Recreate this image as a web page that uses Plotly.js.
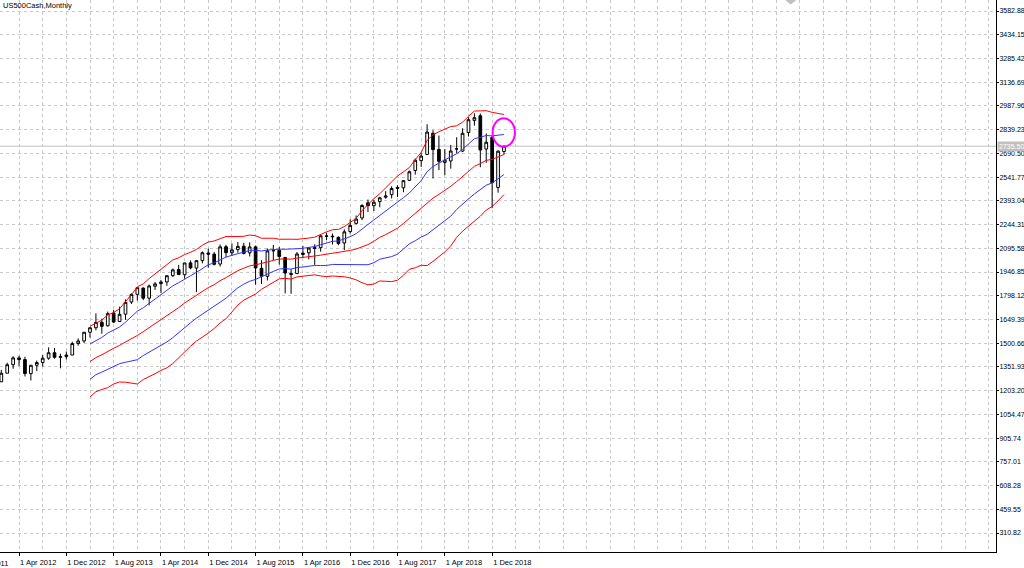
<!DOCTYPE html>
<html>
<head>
<meta charset="utf-8">
<script src="https://cdn.plot.ly/plotly-3.0.1.min.js"></script>
<style>html,body{margin:0;padding:0;background:#fff}#chart{width:1024px;height:568px}</style>
</head>
<body>
<div id="chart"></div>
<script>
// ---- data ----
const months = [
'2012-01','2012-02','2012-03','2012-04','2012-05','2012-06','2012-07','2012-08','2012-09','2012-10','2012-11','2012-12',
'2013-01','2013-02','2013-03','2013-04','2013-05','2013-06','2013-07','2013-08','2013-09','2013-10','2013-11','2013-12',
'2014-01','2014-02','2014-03','2014-04','2014-05','2014-06','2014-07','2014-08','2014-09','2014-10','2014-11','2014-12',
'2015-01','2015-02','2015-03','2015-04','2015-05','2015-06','2015-07','2015-08','2015-09','2015-10','2015-11','2015-12',
'2016-01','2016-02','2016-03','2016-04','2016-05','2016-06','2016-07','2016-08','2016-09','2016-10','2016-11','2016-12',
'2017-01','2017-02','2017-03','2017-04','2017-05','2017-06','2017-07','2017-08','2017-09','2017-10','2017-11','2017-12',
'2018-01','2018-02','2018-03','2018-04','2018-05','2018-06','2018-07','2018-08','2018-09','2018-10','2018-11','2018-12',
'2019-01','2019-02'];
const opens = [
1258.86,1312.45,1365.90,1408.47,1397.86,1309.87,1362.33,1379.32,1406.54,1440.90,1412.20,1416.18,
1426.19,1498.11,1514.68,1569.18,1597.55,1631.71,1609.78,1689.42,1635.95,1682.41,1758.70,1806.55,
1845.86,1782.68,1857.68,1873.96,1884.39,1923.87,1962.29,1929.80,2004.07,1971.44,2018.21,2065.78,
2058.90,1996.67,2105.23,2067.63,2087.38,2108.64,2067.00,2104.49,1970.09,1919.65,2080.76,2082.93,
2038.20,1936.94,1937.09,2056.62,2067.17,2093.94,2099.34,2173.15,2171.33,2164.33,2128.68,2200.17,
2251.57,2285.59,2380.13,2362.34,2388.50,2415.65,2431.39,2477.10,2474.42,2521.20,2583.21,2645.10,
2683.73,2816.45,2715.22,2633.45,2642.96,2718.70,2704.95,2821.17,2896.96,2926.29,2717.58,2790.50,
2476.96,2702.32];
const highs = [
1333.47,1378.04,1419.15,1422.38,1415.32,1363.46,1391.74,1426.68,1474.51,1470.96,1434.27,1448.00,
1509.94,1530.94,1570.28,1597.57,1687.18,1654.19,1698.78,1709.67,1729.86,1775.22,1813.55,1849.44,
1850.84,1867.92,1883.97,1897.28,1924.03,1968.17,1991.39,2005.04,2019.26,2018.19,2075.76,2093.55,
2072.36,2119.59,2117.52,2125.92,2134.72,2129.87,2132.82,2112.66,2020.86,2094.32,2116.48,2104.27,
2038.20,1962.96,2072.21,2111.05,2103.48,2120.55,2177.09,2193.81,2187.87,2169.60,2214.10,2277.53,
2300.99,2371.54,2400.98,2398.16,2418.71,2453.82,2484.04,2490.87,2519.44,2582.98,2657.74,2694.97,
2872.87,2835.96,2801.90,2717.49,2742.24,2791.47,2848.03,2916.50,2940.91,2939.86,2815.15,2800.18,
2708.95,2738.00];
const lows = [
1258.86,1312.45,1340.03,1357.38,1291.98,1266.74,1325.41,1354.65,1396.56,1403.28,1343.35,1398.11,
1426.19,1485.01,1501.48,1536.03,1581.28,1560.33,1604.57,1627.47,1633.41,1646.47,1746.20,1767.99,
1770.45,1737.92,1834.44,1814.36,1859.79,1915.98,1930.67,1904.78,1964.04,1820.66,2001.01,1972.56,
1988.12,1980.90,2039.69,2048.38,2067.93,2056.32,2044.02,1867.01,1871.91,1893.70,2019.39,1993.26,
1812.29,1810.10,1937.09,2033.80,2025.91,1991.68,2074.02,2147.58,2119.12,2114.72,2083.79,2187.44,
2245.13,2271.65,2322.25,2328.95,2352.72,2405.70,2407.70,2417.35,2446.55,2520.40,2557.45,2605.52,
2682.36,2532.69,2585.89,2553.80,2594.62,2691.99,2698.95,2796.34,2864.12,2603.54,2631.09,2346.58,
2443.96,2681.83];
const closes = [
1312.41,1365.68,1408.47,1397.91,1310.33,1362.16,1379.32,1406.58,1440.67,1412.16,1416.18,1426.19,
1498.11,1514.68,1569.19,1597.57,1630.74,1606.28,1685.73,1632.97,1681.55,1756.54,1805.81,1848.36,
1782.59,1859.45,1872.34,1883.95,1923.57,1960.23,1930.67,2003.37,1972.29,2018.05,2067.56,2058.90,
1994.99,2104.50,2067.89,2085.51,2107.39,2063.11,2103.84,1972.18,1920.03,2079.36,2080.41,2043.94,
1940.24,1932.23,2059.74,2065.30,2096.95,2098.86,2173.60,2170.95,2168.27,2126.15,2198.81,2238.83,
2278.87,2363.64,2362.72,2384.20,2411.80,2423.41,2470.30,2471.65,2519.36,2575.26,2647.58,2673.61,
2823.81,2713.83,2640.87,2648.05,2705.27,2718.37,2816.29,2901.52,2913.98,2711.74,2760.17,2506.85,
2704.10,2735.50];

// bands drawn from Apr 2013 onwards
const bandStart = '2013-04';
const bandUpper2 = [
1606.9,1624.3,1645.4,1678.1,1692.3,1717.0,1757.5,1804.6,1853.5,1872.6,
1905.8,1935.3,1962.5,1994.1,2022.3,2036.0,2056.1,2070.6,2088.1,2114.7,
2134.9,2141.3,2157.3,2169.2,2168.6,2170.9,2170.6,2178.5,2174.3,2158.3,
2159.3,2158.5,2151.9,2150.1,2152.5,2151.6,2154.5,2159.5,2165.4,2182.9,
2198.5,2211.7,2214.2,2231.5,2254.8,2283.4,2331.6,2371.0,2407.2,2437.0,
2473.4,2514.5,2548.5,2575.0,2601.8,2651.4,2696.4,2771.6,2806.1,2826.1,
2841.3,2858.4,2863.0,2886.0,2923.0,2955.7,2956.7,2958.0,2947.5,2941.3,2934.2];
const bandUpper1 = [
1496.1,1517.3,1536.7,1564.0,1580.5,1602.1,1632.1,1665.6,1701.3,1722.7,
1751.7,1778.8,1804.3,1832.2,1860.0,1879.7,1904.2,1923.3,1944.6,1970.4,
1992.0,2004.3,2024.8,2040.3,2051.3,2063.1,2070.6,2082.0,2083.0,2078.4,
2084.4,2089.2,2089.9,2089.4,2089.9,2092.7,2095.7,2101.3,2106.3,2117.7,
2128.3,2139.2,2141.0,2152.9,2168.4,2187.0,2218.6,2244.8,2273.2,2300.4,
2327.2,2357.5,2385.2,2412.9,2442.4,2481.9,2519.6,2575.4,2608.0,2629.7,
2649.2,2671.2,2688.3,2715.2,2750.3,2782.5,2791.7,2802.3,2800.1,2804.3,2808.6];
const bandMiddle = [
1385.3,1410.3,1428.0,1449.9,1468.7,1487.2,1506.7,1526.6,1549.1,1572.8,
1597.6,1622.3,1646.1,1670.3,1697.7,1723.4,1752.3,1776.0,1801.1,1826.1,
1849.1,1867.3,1892.3,1911.4,1934.0,1955.3,1970.6,1985.5,1991.7,1998.5,
2009.5,2019.9,2027.9,2028.7,2027.3,2033.8,2036.9,2043.1,2047.2,2052.5,
2058.1,2066.7,2067.8,2074.3,2082.0,2090.6,2105.6,2118.6,2139.2,2163.8,
2181.0,2200.5,2221.9,2250.8,2283.0,2312.4,2342.8,2379.2,2409.9,2433.3,
2457.1,2484.0,2513.6,2544.4,2577.6,2609.3,2626.7,2646.6,2652.7,2667.3,2683.0];
const bandLower1 = [
1274.5,1303.3,1319.3,1335.8,1356.9,1372.3,1381.3,1387.6,1396.9,1422.9,
1443.5,1465.8,1487.9,1508.4,1535.4,1567.1,1600.4,1628.7,1657.6,1681.8,
1706.2,1730.3,1759.8,1782.5,1816.7,1847.5,1870.6,1889.0,1900.4,1918.6,
1934.6,1950.6,1965.9,1968.0,1964.7,1974.9,1978.1,1984.9,1988.1,1987.3,
1987.9,1994.2,1994.6,1995.7,1995.6,1994.2,1992.6,1992.4,2005.2,2027.2,
2034.8,2043.5,2058.6,2088.7,2123.6,2142.9,2166.0,2183.0,2211.8,2236.9,
2265.0,2296.8,2338.9,2373.6,2404.9,2436.1,2461.7,2490.9,2505.3,2530.3,2557.4];
const bandLower2 = [
1163.7,1196.3,1210.6,1221.7,1245.1,1257.4,1255.9,1248.6,1244.7,1273.0,
1289.4,1309.3,1329.7,1346.5,1373.1,1410.8,1448.5,1481.4,1514.1,1537.5,
1563.3,1593.3,1627.3,1653.6,1699.4,1739.7,1770.6,1792.5,1809.1,1838.7,
1859.7,1881.3,1903.9,1907.3,1902.1,1916.0,1919.3,1926.7,1929.0,1922.1,
1917.7,1921.7,1921.4,1917.1,1909.2,1897.8,1879.6,1866.2,1871.2,1890.6,
1888.6,1886.5,1895.3,1926.6,1964.2,1973.4,1989.2,1986.8,2013.7,2040.5,
2072.9,2109.6,2164.2,2202.8,2232.2,2262.9,2296.7,2335.2,2357.9,2393.3,2431.8];

const tickMonths = ['2012-04','2012-12','2013-08','2014-04','2014-12','2015-08','2016-04','2016-12','2017-08','2018-04','2018-12'];
const tickLabels = ['1 Apr 2012','1 Dec 2012','1 Aug 2013','1 Apr 2014','1 Dec 2014','1 Aug 2015','1 Apr 2016','1 Dec 2016','1 Aug 2017','1 Apr 2018','1 Dec 2018'];
const yTicks = [310.82,459.55,608.28,757.01,905.74,1054.47,1203.20,1351.93,1500.66,1649.39,1798.12,1946.85,
2095.58,2244.31,2393.04,2541.77,2690.50,2839.23,2987.96,3136.69,3285.42,3434.15,3582.88];
const bidPrice = 2735.50;
const symbolTitle = 'US500Cash,Monthly';

// ---- chart ----
const idx = months.map((m, i) => i);
const b0 = months.indexOf(bandStart);
const bx = idx.slice(b0, b0 + bandMiddle.length);
const xRange = [-0.22, 168.2];
const yRange = [191.7, 3651.8];
const FONT = 'Liberation Sans, Arial, sans-serif';
const GRID = '#c8c8c8';

function line(y, color) {
  return {type:'scatter', mode:'lines', x:bx, y:y, line:{color:color, width:1}, hoverinfo:'skip', showlegend:false};
}

const traces = [
  {type:'candlestick', x:idx, open:opens, high:highs, low:lows, close:closes,
   increasing:{line:{color:'#000000', width:1}, fillcolor:'#ffffff'},
   decreasing:{line:{color:'#000000', width:1}, fillcolor:'#000000'},
   whiskerwidth:0, hoverinfo:'skip', showlegend:false},
  line(bandUpper2, '#ff0000'),
  line(bandUpper1, '#3333ff'),
  line(bandMiddle, '#ff0000'),
  line(bandLower1, '#3333ff'),
  line(bandLower2, '#ff0000')
];

const firstTick = months.indexOf(tickMonths[0]);
const prevLabelIdx = firstTick - 8;
const prevLabelPaper = (prevLabelIdx - xRange[0]) / (xRange[1] - xRange[0]);

const layout = {
  width:1024, height:568,
  margin:{l:0, r:28, t:0, b:16},
  paper_bgcolor:'#ffffff', plot_bgcolor:'#ffffff',
  showlegend:false,
  boxgap:0.35,
  title:{text:symbolTitle, x:0.003, xanchor:'left', xref:'paper', y:1, yanchor:'top', yref:'container',
         pad:{t:3, l:0, r:0, b:0}, font:{family:FONT, size:7.5, color:'#000'}},
  xaxis:{type:'linear', range:xRange, fixedrange:true,
    rangeslider:{visible:false},
    tickmode:'array', tickvals:tickMonths.map(m => months.indexOf(m)), ticktext:tickLabels,
    ticklabelposition:'outside right', ticklabelstandoff:3,
    ticks:'outside', ticklen:3, tickcolor:'#000', tickwidth:1,
    tickfont:{family:FONT, size:7.5, color:'#000'},
    showgrid:true, gridcolor:GRID, griddash:'3px,3px', gridwidth:1,
    minor:{tick0:firstTick, dtick:4, showgrid:true, gridcolor:GRID, griddash:'3px,3px', gridwidth:1, ticks:''},
    showline:true, linecolor:'#000', linewidth:1, zeroline:false},
  yaxis:{side:'right', range:yRange, fixedrange:true,
    tickmode:'array', tickvals:yTicks, ticktext:yTicks.map(v => v.toFixed(2)),
    ticks:'outside', ticklen:2, tickcolor:'#000', tickwidth:1, ticklabelstandoff:-1,
    tickfont:{family:FONT, size:7, color:'#000'},
    showgrid:true, gridcolor:GRID, griddash:'3px,3px', gridwidth:1,
    showline:true, linecolor:'#000', linewidth:1, zeroline:false},
  shapes:[
    {type:'line', xref:'paper', yref:'y', x0:0, x1:1, y0:bidPrice, y1:bidPrice,
     line:{color:'#c0c0c0', width:1}, layer:'between'},
    {type:'circle', xref:'x', yref:'y', x0:83.08, x1:86.85, y0:2732.4, y1:2910.4,
     line:{color:'#ff00ff', width:2}},
    {type:'path', xref:'paper', yref:'paper', path:'M 0.7889,1 L 0.7989,1 L 0.7939,0.9928 Z',
     fillcolor:'#c0c0c0', line:{color:'#c0c0c0', width:1}}
  ],
  annotations:[
    {xref:'paper', yref:'y', x:1, y:bidPrice, xanchor:'left', yanchor:'middle', xshift:1,
     text:bidPrice.toFixed(2), showarrow:false, bgcolor:'#c0c0c0', borderpad:1,
     font:{family:FONT, size:7, color:'#ffffff'}},
    {xref:'paper', yref:'paper', x:prevLabelPaper, y:0, xanchor:'left', yanchor:'top', yshift:-5, xshift:-3,
     text:'1 Aug 2011', showarrow:false, font:{family:FONT, size:7.5, color:'#000'}}
  ]
};

Plotly.newPlot('chart', traces, layout, {staticPlot:true, displayModeBar:false});
</script>
</body>
</html>
